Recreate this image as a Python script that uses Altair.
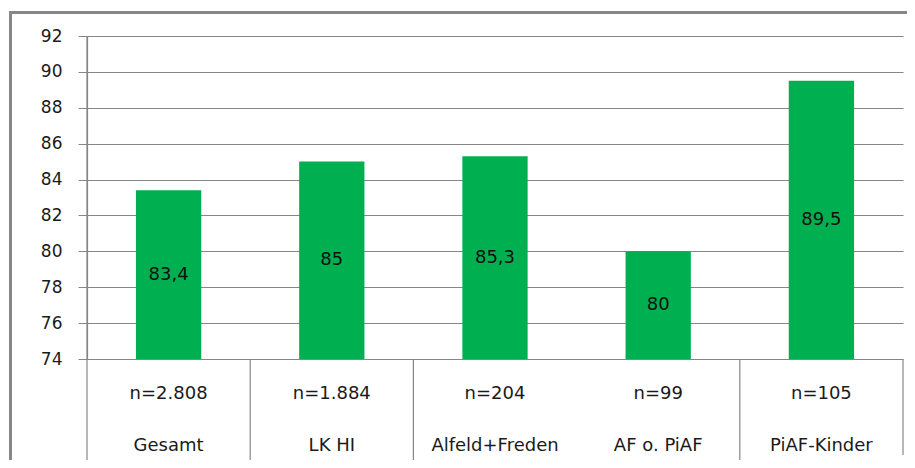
import altair as alt
import pandas as pd

names = ["Gesamt", "LK HI", "Alfeld+Freden", "AF o. PiAF", "PiAF-Kinder"]
counts = ["n=2.808", "n=1.884", "n=204", "n=99", "n=105"]
values = [83.4, 85, 85.3, 80, 89.5]
value_labels = ["83,4", "85", "85,3", "80", "89,5"]
y_ticks = [74, 76, 78, 80, 82, 84, 86, 88, 90, 92]
y_min, y_max = 74, 92

W, H = 816, 323
FONT = "DejaVu Sans"
GRID = "#868686"

cats = [f"{c}|{n}" for c, n in zip(counts, names)]
df = pd.DataFrame({"cat": cats, "value": values, "label": value_labels})
df["mid"] = (df["value"] + y_min) / 2

xscale = alt.Scale(domain=cats, paddingInner=0, paddingOuter=0)
yscale = alt.Scale(domain=[y_min, y_max], nice=False, zero=False)

x_axis = alt.Axis(labelExpr="split(datum.label, '|')", labelLineHeight=52,
                  labelBaseline="top", labelPadding=25, ticks=False,
                  domain=False, labelAngle=0, labelFont=FONT,
                  labelFontSize=18, labelColor="#1a1a1a", labelLimit=300)
y_axis = alt.Axis(values=y_ticks, tickCount=12, grid=True, gridColor=GRID,
                  gridWidth=1.2, tickColor=GRID, tickSize=9, labelPadding=16,
                  labelOverlap=False, labelFlush=False,
                  domainColor=GRID, domainWidth=1.2,
                  labelFont=FONT, labelFontSize=17, labelColor="#1a1a1a")

bars = alt.Chart(df).mark_bar(color="#00B050", width={"band": 0.4}).encode(
    x=alt.X("cat:N", scale=xscale, sort=None, title=None, axis=x_axis),
    y=alt.Y("value:Q", scale=yscale, title=None, axis=y_axis),
    y2=alt.datum(y_min),
)

text = alt.Chart(df).mark_text(font=FONT, fontSize=18, color="#111111",
                               baseline="middle").encode(
    x=alt.X("cat:N", scale=xscale, sort=None, title=None, axis=x_axis),
    y=alt.Y("mid:Q", scale=yscale, title=None, axis=y_axis),
    text="label:N",
)

left = df.iloc[[0]]
inner = df.iloc[[1, 2, 4]]
right = df.iloc[[4]]

rule_left = alt.Chart(left).mark_rule(color=GRID, strokeWidth=1.2).encode(
    x=alt.X("cat:N", scale=xscale, sort=None, bandPosition=0, title=None, axis=x_axis),
    y=alt.value(0), y2=alt.value(H + 107),
)
rule_inner = alt.Chart(inner).mark_rule(color=GRID, strokeWidth=1.2).encode(
    x=alt.X("cat:N", scale=xscale, sort=None, bandPosition=0, title=None, axis=x_axis),
    y=alt.value(H), y2=alt.value(H + 107),
)
rule_right = alt.Chart(right).mark_rule(color=GRID, strokeWidth=1.2).encode(
    x=alt.X("cat:N", scale=xscale, sort=None, bandPosition=1, title=None, axis=x_axis),
    y=alt.value(H), y2=alt.value(H + 96),
)

border_left = alt.Chart(left).mark_rule(color="#878787", strokeWidth=3).encode(
    x=alt.value(-76.5), y=alt.value(-23.5), y2=alt.value(H + 120),
)
border_top = alt.Chart(left).mark_rule(color="#878787", strokeWidth=3).encode(
    x=alt.value(-78), x2=alt.value(W + 20), y=alt.value(-23.5),
)

chart = alt.layer(bars, text, rule_left, rule_inner, rule_right, border_left, border_top).properties(
    width=W, height=H,
    background="white",
    autosize=alt.AutoSizeParams(type="none"),
    padding={"left": 79, "top": 28, "right": 4, "bottom": 101},
).configure_view(stroke=None)

chart.save("out.html", embed_options={"renderer": "svg", "actions": False})
